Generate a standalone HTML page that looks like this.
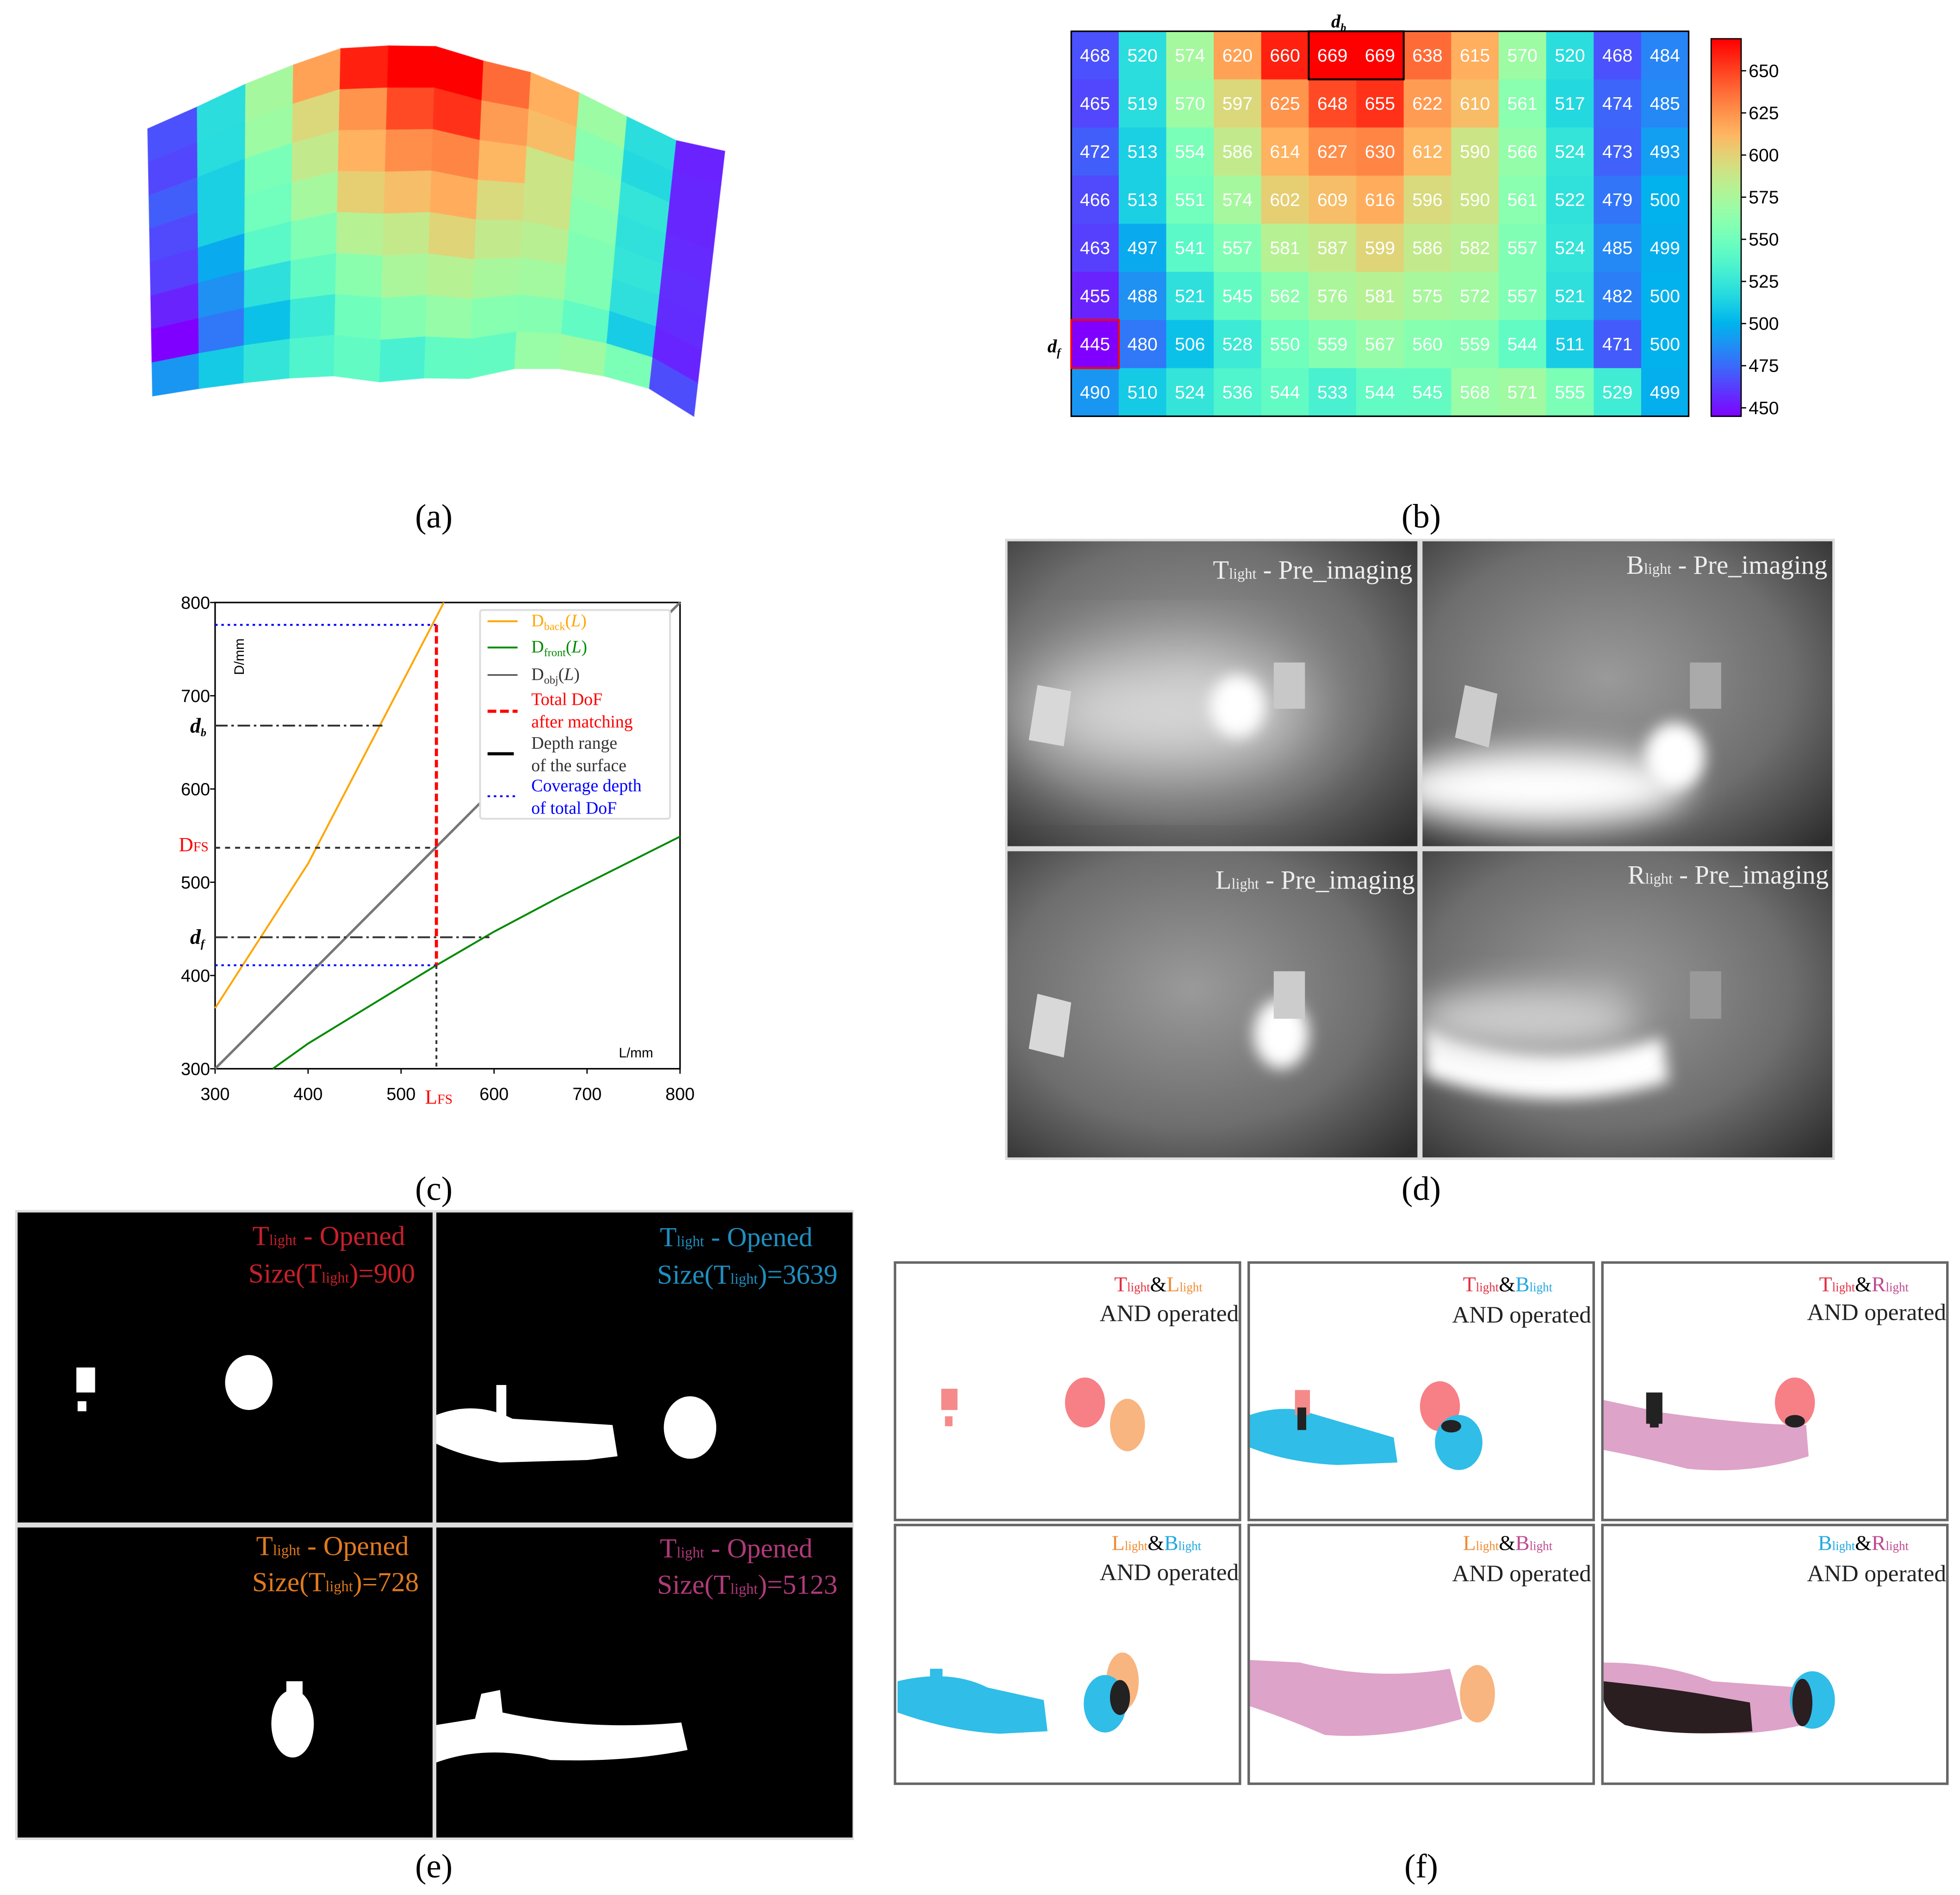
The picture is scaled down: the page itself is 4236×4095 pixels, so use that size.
<!DOCTYPE html>
<html><head><meta charset="utf-8"><style>
html,body{margin:0;padding:0;background:#fff;}
svg{display:block;}
text{font-family:"Liberation Serif",serif;}
.sans{font-family:"Liberation Sans",sans-serif;}
</style></head><body>
<svg id="fig" width="4236" height="4095" viewBox="0 0 1568 1516" xmlns="http://www.w3.org/2000/svg">
<defs>
<filter id="blur6" x="-50%" y="-50%" width="200%" height="200%"><feGaussianBlur stdDeviation="6"/></filter>
<filter id="blur14" x="-50%" y="-50%" width="200%" height="200%"><feGaussianBlur stdDeviation="14"/></filter>
<filter id="blur30" x="-50%" y="-50%" width="200%" height="200%"><feGaussianBlur stdDeviation="30"/></filter>
<radialGradient id="photoBg" cx="0.45" cy="0.45" r="0.75">
<stop offset="0" stop-color="#9a9a9a"/><stop offset="0.6" stop-color="#6e6e6e"/><stop offset="1" stop-color="#2e2e2e"/></radialGradient>
<clipPath id="cd1"><rect x="806" y="433" width="328" height="244"/></clipPath>
<clipPath id="cd2"><rect x="1138" y="433" width="328" height="244"/></clipPath>
<clipPath id="cd3"><rect x="806" y="681" width="328" height="245"/></clipPath>
<clipPath id="cd4"><rect x="1138" y="681" width="328" height="245"/></clipPath>
</defs>

<g id="panelA"></g>
<g id="panelB"></g>
<g id="panelC"></g>

<!-- panel d -->
<g>
 <rect x="804" y="431" width="664" height="497" fill="#ddd"/>
 <g clip-path="url(#cd1)">
  <rect x="806" y="433" width="328" height="244" fill="url(#photoBg)"/>
  <ellipse cx="930" cy="570" rx="120" ry="45" fill="#ddd" filter="url(#blur30)"/>
  <ellipse cx="990" cy="565" rx="22" ry="25" fill="#fff" filter="url(#blur6)"/>
  <polygon points="830,548 857,553 851,597 823,592" fill="#d8d8d8"/>
  <rect x="1019" y="530" width="25" height="37" fill="#c8c8c8"/>
 </g>
 <g clip-path="url(#cd2)">
  <rect x="1138" y="433" width="328" height="244" fill="url(#photoBg)"/>
  <ellipse cx="1230" cy="630" rx="120" ry="30" fill="#fff" filter="url(#blur14)"/>
  <ellipse cx="1340" cy="605" rx="24" ry="27" fill="#fff" filter="url(#blur6)"/>
  <polygon points="1172,548 1198,555 1191,598 1164,590" fill="#ccc"/>
  <rect x="1352" y="530" width="25" height="37" fill="#aaa"/>
 </g>
 <g clip-path="url(#cd3)">
  <rect x="806" y="681" width="328" height="245" fill="url(#photoBg)"/>
  <ellipse cx="1025" cy="827" rx="22" ry="28" fill="#fff" filter="url(#blur6)"/>
  <polygon points="830,795 857,802 851,846 823,839" fill="#d8d8d8"/>
  <rect x="1019" y="777" width="25" height="38" fill="#ccc"/>
 </g>
 <g clip-path="url(#cd4)">
  <rect x="1138" y="681" width="328" height="245" fill="url(#photoBg)"/>
  <path d="M1140,820 Q1230,860 1330,830 L1335,865 Q1240,895 1140,860 Z" fill="#fff" filter="url(#blur6)"/>
  <ellipse cx="1220" cy="815" rx="90" ry="25" fill="#ccc" filter="url(#blur14)"/>
  <rect x="1352" y="777" width="25" height="38" fill="#999"/>
 </g>
 <g fill="#eee" font-size="21">
  <text x="1130" y="463" text-anchor="end">T<tspan font-size="12">light</tspan> - Pre_imaging</text>
  <text x="1462" y="459" text-anchor="end">B<tspan font-size="12">light</tspan> - Pre_imaging</text>
  <text x="1132" y="711" text-anchor="end">L<tspan font-size="12">light</tspan> - Pre_imaging</text>
  <text x="1463" y="707" text-anchor="end">R<tspan font-size="12">light</tspan> - Pre_imaging</text>
 </g>
</g>

<!-- panel e -->
<g>
 <rect x="12" y="968" width="671" height="504" fill="#ddd"/>
 <rect x="14" y="970" width="332" height="248" fill="#000"/>
 <rect x="349" y="970" width="333" height="248" fill="#000"/>
 <rect x="14" y="1222" width="332" height="248" fill="#000"/>
 <rect x="349" y="1222" width="333" height="248" fill="#000"/>
 <g fill="#fff">
  <rect x="61" y="1094" width="15" height="20"/><rect x="62" y="1121" width="7" height="8"/>
  <ellipse cx="199" cy="1106" rx="19" ry="22"/>
  <path d="M349,1132 Q380,1120 410,1135 L490,1140 L494,1165 L470,1168 L400,1170 Q370,1165 349,1155 Z"/>
  <rect x="397" y="1108" width="8" height="25"/>
  <ellipse cx="552" cy="1142" rx="21" ry="25"/>
  <ellipse cx="234" cy="1379" rx="17" ry="27"/><rect x="229" y="1345" width="13" height="12"/>
  <path d="M349,1380 L380,1375 L385,1355 L400,1352 L402,1370 Q470,1385 545,1378 L550,1400 Q500,1410 440,1408 Q390,1395 349,1410 Z"/>
 </g>
 <g font-size="22">
  <text x="324" y="996" text-anchor="end" fill="#c8202a">T<tspan font-size="12">light</tspan> - Opened</text>
  <text x="332" y="1026" text-anchor="end" fill="#c8202a">Size(T<tspan font-size="12">light</tspan>)=900</text>
  <text x="650" y="997" text-anchor="end" fill="#1f8fc0">T<tspan font-size="12">light</tspan> - Opened</text>
  <text x="670" y="1027" text-anchor="end" fill="#1f8fc0">Size(T<tspan font-size="12">light</tspan>)=3639</text>
  <text x="327" y="1244" text-anchor="end" fill="#e07a20">T<tspan font-size="12">light</tspan> - Opened</text>
  <text x="335" y="1273" text-anchor="end" fill="#e07a20">Size(T<tspan font-size="12">light</tspan>)=728</text>
  <text x="650" y="1246" text-anchor="end" fill="#b03a7a">T<tspan font-size="12">light</tspan> - Opened</text>
  <text x="670" y="1275" text-anchor="end" fill="#b03a7a">Size(T<tspan font-size="12">light</tspan>)=5123</text>
 </g>
</g>

<!-- panel f -->
<g>
 <g fill="#fff" stroke="#666" stroke-width="2">
  <rect x="716" y="1010" width="276" height="206"/><rect x="999" y="1010" width="276" height="206"/><rect x="1282" y="1010" width="276" height="206"/>
  <rect x="716" y="1220" width="276" height="207"/><rect x="999" y="1220" width="276" height="207"/><rect x="1282" y="1220" width="276" height="207"/>
 </g>
 <g>
  <rect x="753" y="1111" width="13" height="17" fill="#f58a8a"/><rect x="756" y="1133" width="6" height="8" fill="#f58a8a"/>
  <ellipse cx="868" cy="1122" rx="16" ry="20" fill="#f77f86"/>
  <ellipse cx="902" cy="1140" rx="14" ry="21" fill="#f8b580"/>
  <path d="M1000,1132 Q1020,1125 1040,1128 L1115,1150 L1118,1170 L1070,1172 Q1030,1170 1000,1158 Z" fill="#30bde8"/>
  <rect x="1036" y="1112" width="12" height="20" fill="#f58a8a"/><rect x="1038" y="1126" width="7" height="18" fill="#222"/>
  <ellipse cx="1152" cy="1125" rx="16" ry="20" fill="#f77f86"/>
  <ellipse cx="1167" cy="1154" rx="19" ry="22" fill="#30bde8"/>
  <ellipse cx="1161" cy="1141" rx="8" ry="5" fill="#222"/>
  <path d="M1283,1120 L1330,1130 Q1400,1140 1445,1140 L1447,1165 Q1400,1180 1350,1175 Q1310,1165 1283,1160 Z" fill="#dea3c8"/>
  <rect x="1317" y="1114" width="13" height="25" fill="#222"/><rect x="1320" y="1132" width="7" height="10" fill="#222"/>
  <ellipse cx="1436" cy="1122" rx="16" ry="20" fill="#f77f86"/>
  <ellipse cx="1436" cy="1137" rx="8" ry="5" fill="#222"/>
  <path d="M718,1345 Q760,1335 790,1350 L835,1360 L838,1385 L800,1387 Q760,1385 718,1370 Z" fill="#30bde8"/>
  <rect x="744" y="1335" width="10" height="15" fill="#30bde8"/>
  <ellipse cx="898" cy="1345" rx="13" ry="23" fill="#f8b580"/>
  <ellipse cx="884" cy="1363" rx="17" ry="23" fill="#30bde8"/>
  <ellipse cx="896" cy="1358" rx="8" ry="14" fill="#222"/>
  <path d="M1000,1328 L1040,1330 Q1100,1345 1160,1335 L1170,1375 Q1110,1392 1060,1388 Q1030,1375 1000,1365 Z" fill="#dea3c8"/>
  <ellipse cx="1182" cy="1355" rx="14" ry="23" fill="#f8b580"/>
  <path d="M1283,1330 Q1330,1330 1370,1345 L1440,1350 L1442,1380 Q1400,1390 1360,1385 Q1320,1378 1283,1360 Z" fill="#dea3c8"/>
  <path d="M1283,1345 Q1330,1350 1360,1355 L1400,1362 L1402,1385 Q1340,1390 1300,1380 Q1285,1370 1283,1360 Z" fill="#2a1e20"/>
  <ellipse cx="1450" cy="1360" rx="18" ry="23" fill="#30bde8"/>
  <ellipse cx="1442" cy="1362" rx="8" ry="19" fill="#2a1e20"/>
 </g>
 <g font-size="17">
  <text x="962" y="1033" text-anchor="end"><tspan fill="#e03040">T<tspan font-size="10">light</tspan></tspan>&amp;<tspan fill="#f08a30">L<tspan font-size="10">light</tspan></tspan></text>
  <text x="1242" y="1033" text-anchor="end"><tspan fill="#e03040">T<tspan font-size="10">light</tspan></tspan>&amp;<tspan fill="#20a8e0">B<tspan font-size="10">light</tspan></tspan></text>
  <text x="1527" y="1033" text-anchor="end"><tspan fill="#e03040">T<tspan font-size="10">light</tspan></tspan>&amp;<tspan fill="#c04a90">R<tspan font-size="10">light</tspan></tspan></text>
  <text x="961" y="1240" text-anchor="end"><tspan fill="#f08a30">L<tspan font-size="10">light</tspan></tspan>&amp;<tspan fill="#20a8e0">B<tspan font-size="10">light</tspan></tspan></text>
  <text x="1242" y="1240" text-anchor="end"><tspan fill="#f08a30">L<tspan font-size="10">light</tspan></tspan>&amp;<tspan fill="#c04a90">B<tspan font-size="10">light</tspan></tspan></text>
  <text x="1527" y="1240" text-anchor="end"><tspan fill="#20a8e0">B<tspan font-size="10">light</tspan></tspan>&amp;<tspan fill="#c04a90">R<tspan font-size="10">light</tspan></tspan></text>
 </g>
 <g font-size="19" fill="#222">
  <text x="991" y="1057" text-anchor="end">AND operated</text>
  <text x="1273" y="1058" text-anchor="end">AND operated</text>
  <text x="1557" y="1056" text-anchor="end">AND operated</text>
  <text x="991" y="1264" text-anchor="end">AND operated</text>
  <text x="1273" y="1265" text-anchor="end">AND operated</text>
  <text x="1557" y="1265" text-anchor="end">AND operated</text>
 </g>
</g>

<g font-size="27" fill="#000" text-anchor="middle">
 <text x="347" y="422">(a)</text><text x="1137" y="422">(b)</text>
 <text x="347" y="960">(c)</text><text x="1137" y="960">(d)</text>
 <text x="347" y="1502">(e)</text><text x="1137" y="1502">(f)</text>
</g>
</svg>
<script>
// ---------- heatmap data ----------
const heatRows = [
 [468,520,574,620,660,669,669,638,615,570,520,468,484],
 [465,519,570,597,625,648,655,622,610,561,517,474,485],
 [472,513,554,586,614,627,630,612,590,566,524,473,493],
 [466,513,551,574,602,609,616,596,590,561,522,479,500],
 [463,497,541,557,581,587,599,586,582,557,524,485,499],
 [455,488,521,545,562,576,581,575,572,557,521,482,500],
 [445,480,506,528,550,559,567,560,559,544,511,471,500],
 [490,510,524,536,544,533,544,545,568,571,555,529,499]
];
const cbarTicks = [450,475,500,525,550,575,600,625,650];
// ---------- line chart data ----------
const xTicks = [300,400,500,600,700,800];
const yTicks = [300,400,500,600,700,800];
const backL = [300,400,546];
const backD = [365,520,800];
const objL = [300,800];
const objD = [300,800];
const frontL = [362,400,538,600,670,800];
const frontD = [300,327,411,447,484,549];
const L_FS = 538, D_FS = 537, d_b = 668, d_f = 441, covTop = 776, covBot = 411;

const NS = "http://www.w3.org/2000/svg";
function mk(tag, attrs, parent){const e=document.createElementNS(NS,tag);for(const k in attrs)e.setAttribute(k,attrs[k]);parent.appendChild(e);return e;}
const vmin=445, vmax=669;
function rainbow(v){let t=(v-vmin)/(vmax-vmin);t=Math.max(0,Math.min(1,t));
 const r=Math.min(1,Math.abs(2*t-0.5)),g=Math.sin(Math.PI*t),b=Math.cos(Math.PI*t/2);
 return `rgb(${Math.round(r*255)},${Math.round(g*255)},${Math.round(b*255)})`;}

// ---- panel B ----
const pB=document.getElementById('panelB');
const hx0=857,hy0=25,cw=38,ch=38.5;
heatRows.forEach((row,i)=>row.forEach((v,j)=>{
 const r=mk('rect',{x:hx0+j*cw,y:hy0+i*ch,width:cw+0.5,height:ch+0.5,fill:rainbow(v)},pB);
 
 
 const t=mk('text',{x:hx0+j*cw+cw/2,y:hy0+i*ch+ch/2+5,'text-anchor':'middle','font-size':14.5,fill:'#fff',class:'sans'},pB);
 t.textContent=v;
}));
mk('rect',{x:hx0,y:hy0,width:13*cw,height:8*ch,fill:'none',stroke:'#000','stroke-width':1.2},pB);
mk('rect',{x:hx0+5*cw,y:hy0,width:2*cw,height:ch,fill:'none',stroke:'#000','stroke-width':1.5},pB);
mk('rect',{x:hx0,y:hy0+6*ch,width:cw,height:ch,fill:'none',stroke:'#f00','stroke-width':1.5},pB);
let tb=mk('text',{x:1065,y:22,'font-size':15,'font-style':'italic','font-weight':'bold'},pB);tb.innerHTML='d<tspan font-size="9" dy="3">b</tspan>';
let tf=mk('text',{x:838,y:282,'font-size':15,'font-style':'italic','font-weight':'bold'},pB);tf.innerHTML='d<tspan font-size="9" dy="3">f</tspan>';
// colorbar
const cbx=1369,cby0=31,cby1=333,cbw=24;
const cy=v=>cby1-(v-vmin)/(vmax-vmin)*(cby1-cby0);
for(let v=vmin;v<vmax;v+=1){mk('rect',{x:cbx,y:cy(v+1),width:cbw,height:(cby1-cby0)/(vmax-vmin)+0.6,fill:rainbow(v+0.5)},pB);}
mk('rect',{x:cbx,y:cby0,width:cbw,height:cby1-cby0,fill:'none',stroke:'#000','stroke-width':1},pB);
cbarTicks.forEach(v=>{mk('line',{x1:cbx+cbw,x2:cbx+cbw+4,y1:cy(v),y2:cy(v),stroke:'#000'},pB);
 const t=mk('text',{x:cbx+cbw+6,y:cy(v)+5,'font-size':14.5,class:'sans'},pB);t.textContent=v;
 });

// ---- panel A (3D surface) ----
const pA=document.getElementById('panelA');
const topX=[118,157.6,196.4,234.6,272.5,310.7,348.6,386.8,424.7,463.5,501.6,541.1,579.9];
const topY=[103,85.5,67.2,51.9,38.8,36.6,37.1,48.7,57.9,74.2,93.3,112.4,120.9];
const botX=[121.9,159.2,194.9,231.5,266.9,303.6,339.3,375,411.6,447,483,519.4,555.1];
const botY=[316.9,310.9,306.3,302.5,300.8,305.6,302.5,302.9,295,295,300.8,310.9,333.2];
const colorOverride=[null,null,null,null,null,null,null,null,null,null,null,455];
for(let j=0;j<12;j++)for(let i=0;i<8;i++){
 const f0=i/8,f1=(i+1)/8;
 const P=(k,f)=>[topX[k]+(botX[k]-topX[k])*f, topY[k]+(botY[k]-topY[k])*f];
 const a=P(j,f0),b=P(j+1,f0),c=P(j+1,f1),d=P(j,f1);
 const v=colorOverride[j]!==null?colorOverride[j]+(heatRows[i][j]-470)*0.2:heatRows[i][j];
 const p=mk('polygon',{points:`${a} ${b} ${c} ${d}`,fill:rainbow(v),stroke:rainbow(v),'stroke-width':0.6,'stroke-opacity':0.6},pA);
 
 
}

// ---- panel C ----
const pC=document.getElementById('panelC');
const X0=172,X1=544,Y0=855,Y1=482;
const sx=L=>X0+(L-300)/500*(X1-X0);
const sy=D=>Y0-(D-300)/500*(Y0-Y1);
mk('rect',{x:X0,y:Y1,width:X1-X0,height:Y0-Y1,fill:'#fff',stroke:'#000','stroke-width':1.2},pC);
xTicks.forEach(v=>{mk('line',{x1:sx(v),x2:sx(v),y1:Y0,y2:Y0+4,stroke:'#000'},pC);
 const t=mk('text',{x:sx(v),y:Y0+25,'text-anchor':'middle','font-size':14,class:'sans'},pC);t.textContent=v;});
yTicks.forEach(v=>{mk('line',{x1:X0-4,x2:X0,y1:sy(v),y2:sy(v),stroke:'#000'},pC);
 const t=mk('text',{x:X0-4,y:sy(v)+5,'text-anchor':'end','font-size':14,class:'sans'},pC);t.textContent=v;});
function line(Ls,Ds,color,w,name){const pts=Ls.map((L,i)=>`${sx(L)},${sy(Ds[i])}`).join(' ');
 const p=mk('polyline',{points:pts,fill:'none',stroke:color,'stroke-width':w},pC);
 }
line(objL,objD,'#777',2,'line-d-obj');
line(backL,backD,'#ffa500',1.5,'line-d-back');
line(frontL,frontD,'#008a00',1.5,'line-d-front');
mk('line',{x1:X0,x2:sx(480),y1:sy(d_b),y2:sy(d_b),stroke:'#333','stroke-width':1.5,'stroke-dasharray':'10,3,2,3'},pC);
mk('line',{x1:X0,x2:sx(595),y1:sy(d_f),y2:sy(d_f),stroke:'#333','stroke-width':1.5,'stroke-dasharray':'10,3,2,3'},pC);
mk('line',{x1:X0,x2:sx(L_FS),y1:sy(D_FS),y2:sy(D_FS),stroke:'#333','stroke-width':1.5,'stroke-dasharray':'4,4'},pC);
mk('line',{x1:X0,x2:sx(L_FS),y1:sy(covTop),y2:sy(covTop),stroke:'#00f','stroke-width':1.5,'stroke-dasharray':'2,3'},pC);
mk('line',{x1:X0,x2:sx(L_FS),y1:sy(covBot),y2:sy(covBot),stroke:'#00f','stroke-width':1.5,'stroke-dasharray':'2,3'},pC);
mk('line',{x1:sx(L_FS),x2:sx(L_FS),y1:sy(covBot),y2:Y0,stroke:'#333','stroke-width':1.5,'stroke-dasharray':'3,3'},pC);
mk('line',{x1:sx(L_FS),x2:sx(L_FS),y1:sy(covTop),y2:sy(covBot),stroke:'#f00','stroke-width':2.5,'stroke-dasharray':'6,3'},pC);
// legend
const lg=mk('g',{},pC);
mk('rect',{x:384,y:488,width:152,height:167,fill:'#fff',stroke:'#ddd','stroke-width':1.5,rx:2},lg);
const leg=[[501,'#ffa500','D<tspan font-size="9" dy="3">back</tspan><tspan dy="-3">(<tspan font-style="italic">L</tspan>)</tspan>','#ffa500',1.5],
 [522,'#008a00','D<tspan font-size="9" dy="3">front</tspan><tspan dy="-3">(<tspan font-style="italic">L</tspan>)</tspan>','#008a00',1.5],
 [544,'#333','D<tspan font-size="9" dy="3">obj</tspan><tspan dy="-3">(<tspan font-style="italic">L</tspan>)</tspan>','#333',1]];
leg.forEach(l=>{mk('line',{x1:390,x2:414,y1:l[0]-4,y2:l[0]-4,stroke:l[1],'stroke-width':l[4]},lg);
 const t=mk('text',{x:425,y:l[0],'font-size':14,fill:l[3]},lg);t.innerHTML=l[2];});
mk('line',{x1:390,x2:414,y1:569,y2:569,stroke:'#f00','stroke-width':2.5,'stroke-dasharray':'7,3'},lg);
mk('line',{x1:390,x2:411,y1:603,y2:603,stroke:'#000','stroke-width':2.5},lg);
mk('line',{x1:390,x2:414,y1:637,y2:637,stroke:'#00f','stroke-width':1.5,'stroke-dasharray':'2,3'},lg);
[['Total DoF',564,'#f00'],['after matching',582,'#f00'],['Depth range',599,'#333'],['of the surface',617,'#333'],['Coverage depth',633,'#00f'],['of total DoF',651,'#00f']]
 .forEach(a=>{const t=mk('text',{x:425,y:a[1],'font-size':14,fill:a[2]},lg);t.textContent=a[0];});
// axis labels
let t=mk('text',{x:195,y:540,'font-size':11,class:'sans',transform:'rotate(-90 195 540)'},pC);t.textContent='D/mm';
t=mk('text',{x:495,y:846,'font-size':11,class:'sans'},pC);t.textContent='L/mm';
t=mk('text',{x:340,y:883,'font-size':16,fill:'#f00'},pC);t.innerHTML='L<tspan font-size="11">FS</tspan>';
t=mk('text',{x:143,y:681,'font-size':16,fill:'#f00'},pC);t.innerHTML='D<tspan font-size="11">FS</tspan>';
t=mk('text',{x:152,y:586,'font-size':17,'font-style':'italic','font-weight':'bold'},pC);t.innerHTML='d<tspan font-size="9" dy="3">b</tspan>';
t=mk('text',{x:152,y:755,'font-size':17,'font-style':'italic','font-weight':'bold'},pC);t.innerHTML='d<tspan font-size="9" dy="3">f</tspan>';
</script>
</body></html>
